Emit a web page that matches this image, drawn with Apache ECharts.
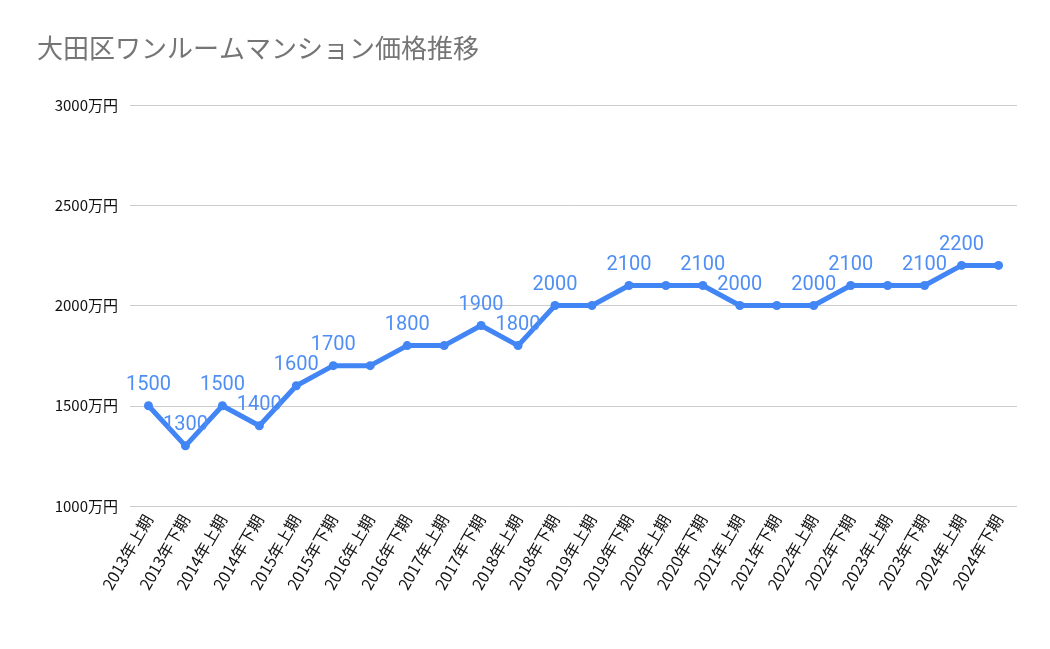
<!DOCTYPE html><html><head><meta charset="utf-8">
<script src="https://cdn.jsdelivr.net/npm/echarts@6/dist/echarts.min.js"></script>
<style>html,body{margin:0;padding:0;background:#fff}#c{width:1050px;height:649px}</style></head><body><div id="c"></div>
<script>
const categories=["2013年上期","2013年下期","2014年上期","2014年下期","2015年上期","2015年下期","2016年上期","2016年下期","2017年上期","2017年下期","2018年上期","2018年下期","2019年上期","2019年下期","2020年上期","2020年下期","2021年上期","2021年下期","2022年上期","2022年下期","2023年上期","2023年下期","2024年上期","2024年下期"];
const values=[1500,1300,1500,1400,1600,1700,1700,1800,1800,1900,1800,2000,2000,2100,2100,2100,2000,2000,2000,2100,2100,2100,2200,2200];
const labelShown=[0,1,2,3,4,5,7,9,10,11,13,15,16,18,19,21,22];
const chart=echarts.init(document.getElementById('c'));
chart.setOption({
 title:{text:'大田区ワンルームマンション価格推移',left:32,top:30,textStyle:{fontFamily:'Noto Sans CJK JP',fontSize:26,fontWeight:'normal',color:'#757575'}},
 grid:{left:130,right:33,top:105,bottom:143},
 xAxis:{type:'category',data:categories,boundaryGap:['2%','2%'],axisTick:{show:false},axisLine:{show:false},
  axisLabel:{rotate:60,interval:0,fontSize:16,color:'#111',fontFamily:'Noto Sans CJK JP',margin:10}},
 yAxis:{type:'value',min:1000,max:3000,interval:500,axisLine:{show:false},axisTick:{show:false},
  splitLine:{lineStyle:{color:'#ccc'}},axisLabel:{formatter:v=>v+'万円',fontSize:15,color:'#111',fontFamily:'Noto Sans CJK JP',margin:12}},
 series:[{type:'line',data:values.map((v,i)=>({value:v,label:{show:labelShown.includes(i)}})),
  lineStyle:{color:'#4285f4',width:5},itemStyle:{color:'#4285f4'},symbol:'circle',symbolSize:9,
  label:{position:'top',distance:6,fontSize:20,color:'#4f8ef5',fontFamily:'Roboto'}}]
});
</script></body></html>
